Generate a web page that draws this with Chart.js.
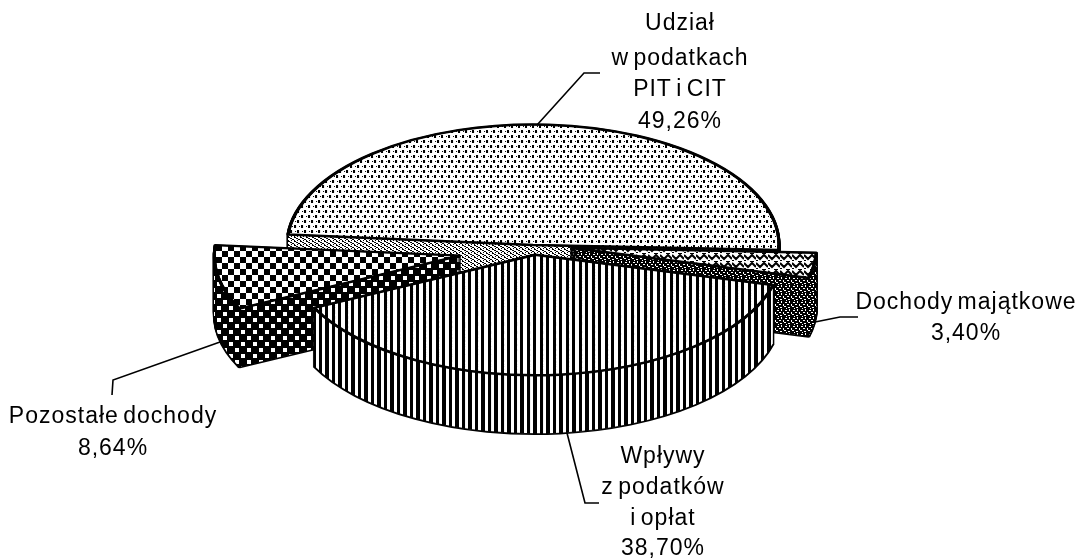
<!DOCTYPE html>
<html>
<head>
<meta charset="utf-8">
<script src="https://cdn.jsdelivr.net/npm/chart.js"></script>
<style>
  html, body { margin: 0; padding: 0; background: #fff; }
  canvas { display: block; }
</style>
</head>
<body>
<canvas id="myChart" width="1082" height="559"></canvas>
<script>
// values
const categories = ["Udział w podatkach PIT i CIT", "Dochody majątkowe", "Wpływy z podatków i opłat", "Pozostałe dochody"];
const shares = [49.26, 3.40, 38.70, 8.64];
const labelLines = [
  ["Udział", "w podatkach", "PIT i CIT", "49,26%"],
  ["Dochody majątkowe", "3,40%"],
  ["Wpływy", "z podatków", "i opłat", "38,70%"],
  ["Pozostałe dochody", "8,64%"]
];

// look of the 3D pie
const squash = 0.49;
const depth = 58;
const explode = [0, 38, 20, 74];
const drop = [0, 0, 0, 4];
const drawOrder = [0, 1, 3, 2];
const labelX = [680, 966, 663, 113];
const labelY = [[24, 59, 90, 122], [303, 334], [457, 488, 519, 549], [417, 449]];
const leaders = [
  [[537, 125], [584, 73], [600, 73]],
  [[815, 322], [840, 317], [858, 317]],
  [[567, 433], [585, 503], [599, 503]],
  [[220, 342], [113, 380], [112, 395]]
];

function makePattern(w, h, paint) {
  var c = document.createElement("canvas");
  c.width = w;
  c.height = h;
  var g = c.getContext("2d");
  g.fillStyle = "#fff";
  g.fillRect(0, 0, w, h);
  g.fillStyle = "#000";
  paint(g);
  var p = g.createPattern(c, "repeat");
  // keep the pattern upright, the pie gets squashed
  p.setTransform(new DOMMatrix([1, 0, 0, 1 / squash, 0, 0]));
  return p;
}

function rects(list) {
  return function (g) {
    list.forEach(function (r) { g.fillRect(r[0], r[1], r[2], r[3]); });
  };
}

const dots = makePattern(7, 10, rects([[0, 0, 2, 3], [3, 5, 2, 3], [5, 1, 1, 1], [1, 6, 1, 1]]));
const hatch = makePattern(6, 4, rects([[0, 0, 2, 1], [2, 1, 2, 1], [4, 2, 2, 1], [0, 3, 1, 1], [3, 3, 1, 1]]));
const weave = makePattern(12, 8, function (g) {
  g.lineWidth = 2;
  g.beginPath();
  g.moveTo(0, 2); g.lineTo(4, 6); g.lineTo(8, 2); g.lineTo(12, 6);
  g.moveTo(0, 8); g.lineTo(2, 8); g.moveTo(6, 0); g.lineTo(10, 0);
  g.stroke();
});
const noise = makePattern(8, 8, function (g) {
  g.fillRect(0, 0, 8, 8);
  g.fillStyle = "#fff";
  rects([[1, 1, 2, 1], [5, 0, 1, 2], [3, 3, 2, 1], [7, 3, 1, 2], [0, 5, 2, 1], [4, 6, 2, 1], [2, 7, 1, 1]])(g);
});
const stripes = makePattern(13, 4, rects([[0, 0, 3, 4], [7, 0, 3, 4]]));
const stripesDark = makePattern(13, 4, rects([[0, 0, 4, 4], [7, 0, 3, 4]]));
const checker = makePattern(12, 12, rects([[0, 0, 6, 6], [6, 6, 6, 6]]));
const checkerDark = makePattern(12, 12, function (g) {
  g.fillRect(0, 0, 12, 12);
  g.fillStyle = "#fff";
  g.fillRect(1, 1, 4, 4);
  g.fillRect(7, 7, 4, 4);
});

const topFills = [dots, weave, stripes, checker];
const wallFills = [hatch, noise, stripesDark, checkerDark];
const clear = "rgba(0,0,0,0)";

function drawArcAt(ctx, arc, x, y, fill, border) {
  var keepX = arc.x, keepY = arc.y, keepOptions = arc.options;
  arc.x = x;
  arc.y = y;
  arc.options = Object.assign({}, keepOptions, { backgroundColor: fill, borderWidth: border, borderColor: "#000" });
  arc.draw(ctx);
  arc.x = keepX;
  arc.y = keepY;
  arc.options = keepOptions;
}

const pie3d = {
  id: "pie3d",
  beforeDatasetsDraw(chart) {
    var ctx = chart.ctx;
    var arcs = chart.getDatasetMeta(0).data;
    var cy = arcs[0].y;
    ctx.save();
    ctx.translate(0, cy);
    ctx.scale(1, squash);
    ctx.translate(0, -cy);
    drawOrder.forEach(function (i) {
      var arc = arcs[i];
      var mid = (arc.startAngle + arc.endAngle) / 2;
      var x = arc.x + explode[i] * Math.cos(mid);
      var y = arc.y + explode[i] * Math.sin(mid) + drop[i] / squash;
      var d;
      // black copies first, the filled ones leave only the silhouette showing
      for (d = depth + 1; d > 0; d--) {
        drawArcAt(ctx, arc, x, y + d / squash, clear, 3);
      }
      for (d = depth; d > 0; d--) {
        drawArcAt(ctx, arc, x, y + d / squash, wallFills[i], 0);
      }
      drawArcAt(ctx, arc, x, y, topFills[i], 3);
      // the squash thins level lines, so the rim gets a second pass
      drawArcAt(ctx, arc, x, y - 0.5 / squash, clear, 3);
      drawArcAt(ctx, arc, x, y + 0.5 / squash, clear, 3);
    });
    ctx.restore();
    return false;
  },
  afterDraw(chart) {
    var ctx = chart.ctx;
    ctx.save();
    ctx.strokeStyle = "#000";
    ctx.lineWidth = 1.6;
    leaders.forEach(function (pts) {
      ctx.beginPath();
      pts.forEach(function (p, n) {
        if (n == 0) ctx.moveTo(p[0], p[1]);
        else ctx.lineTo(p[0], p[1]);
      });
      ctx.stroke();
    });
    ctx.fillStyle = "#000";
    ctx.font = "23px 'Liberation Sans'";
    ctx.letterSpacing = "1px";
    ctx.wordSpacing = "-3px";
    ctx.textAlign = "center";
    ctx.textBaseline = "middle";
    labelLines.forEach(function (lines, i) {
      lines.forEach(function (line, n) {
        ctx.fillText(line, labelX[i], labelY[i][n]);
      });
    });
    ctx.restore();
  }
};

new Chart(document.getElementById("myChart"), {
  type: "pie",
  data: {
    labels: categories,
    datasets: [{
      data: shares,
      radius: 246,
      rotation: -85,
      clip: false,
      borderWidth: 0
    }]
  },
  options: {
    responsive: false,
    animation: false,
    events: [],
    // puts the pie centre where it is in the picture
    layout: { padding: { right: 16, bottom: 69 } },
    plugins: { legend: { display: false }, tooltip: { enabled: false } }
  },
  plugins: [pie3d]
});
</script>
</body>
</html>
